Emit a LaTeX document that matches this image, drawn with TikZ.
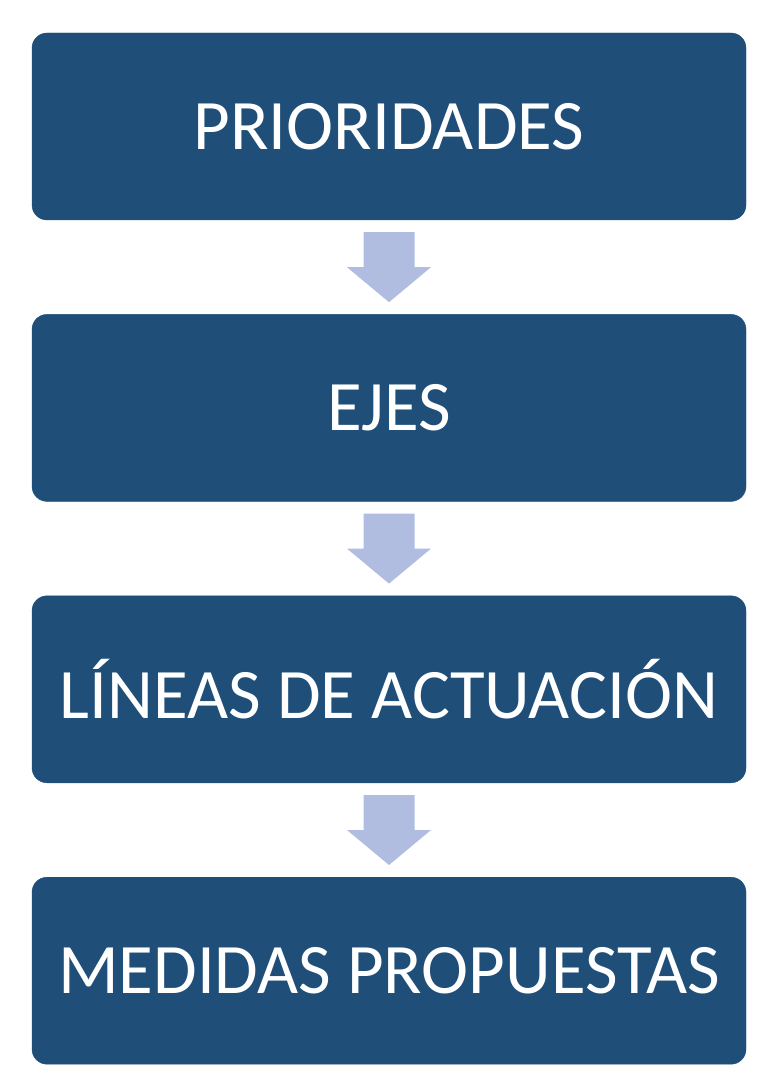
\documentclass[tikz,border=0pt]{standalone}
\usepackage{fontspec}
\setmainfont{Carlito}
\usetikzlibrary{positioning,calc}
\definecolor{Marino}{HTML}{1F4E79}
\definecolor{Lavanda}{HTML}{B0BDE0}

\begin{document}
\begin{tikzpicture}[
    caja/.style={fill=Marino,draw=Marino,rounded corners=15pt,minimum width=714pt,minimum height=187pt,
                 inner sep=0pt,text=white,font=\fontsize{71}{85}\selectfont},
    flecha/.style={fill=Lavanda}
  ]
    \useasboundingbox (0,0) rectangle (771pt,-1083pt);
    \node[caja] (prio) at (389pt,-126.5pt) {PRIORIDADES};
    \node[caja,below=94pt of prio] (ejes) {EJES};
    \node[caja,below=94pt of ejes] (lineas) {LÍNEAS DE ACTUACIÓN};
    \node[caja,below=94pt of lineas] (medidas) {MEDIDAS PROPUESTAS};
    \foreach \a/\b in {prio/ejes,ejes/lineas,lineas/medidas}
      \fill[flecha] ($(\a.south)!.5!(\b.north)+(-25.5pt,35pt)$) -- ++(51pt,0) -- ++(0,-35pt)
        -- ++(16.5pt,0) -- ++(-42pt,-35pt) -- ++(-42pt,35pt) -- ++(16.5pt,0) -- cycle;
  \end{tikzpicture}
\end{document}
